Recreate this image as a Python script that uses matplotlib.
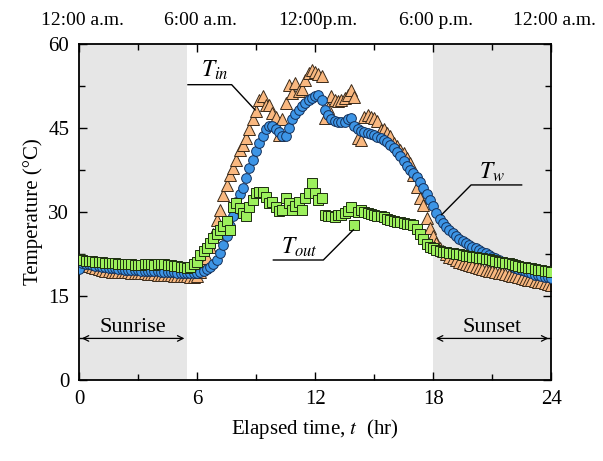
import numpy as np
import matplotlib
matplotlib.use('Agg')
import matplotlib.pyplot as plt

plt.rcParams['font.family'] = 'Liberation Serif'
plt.rcParams['mathtext.fontset'] = 'stix'

# 10-min readings, one row per hour (0..23 h) plus the final 24 h value
t = np.arange(145) / 6.0

T_w = [
    19.8, 20.8, 20.7, 20.6, 20.5, 20.4,
    20.3, 20.2, 20.1, 20.0, 19.9, 19.9,
    19.8, 19.8, 19.7, 19.7, 19.6, 19.6,
    19.6, 19.5, 19.5, 19.5, 19.4, 19.4,
    19.4, 19.3, 19.3, 19.3, 19.2, 19.2,
    19.1, 19.1, 19.0, 19.0, 19.0, 19.0,
    19.0, 19.2, 19.5, 19.8, 20.1, 20.7,
    21.4, 22.6, 24.0, 25.7, 27.5, 29.2,
    31.8, 33.2, 34.3, 36.0, 37.8, 39.3,
    40.8, 42.3, 43.6, 44.8, 45.3, 45.3,
    44.8, 44.2, 43.5, 43.6, 45.0, 46.5,
    47.5, 48.2, 48.9, 49.5, 50.0, 50.4,
    50.7, 50.9, 49.9, 48.2, 47.2, 46.6,
    46.2, 46.0, 46.0, 46.1, 46.5, 46.8,
    45.3, 44.8, 44.5, 44.3, 44.1, 43.9,
    43.7, 43.4, 43.1, 42.8, 42.4, 42.0,
    41.4, 40.6, 39.9, 39.0, 38.2, 37.5,
    36.9, 36.3, 35.3, 34.2, 33.2, 32.1,
    31.0, 29.8, 28.8, 28.0, 27.3, 26.7,
    26.2, 25.7, 25.2, 24.8, 24.4, 24.1,
    23.8, 23.5, 23.2, 22.9, 22.6, 22.3,
    22.0, 21.7, 21.4, 21.1, 20.8, 20.6,
    20.3, 20.0, 19.8, 19.6, 19.4, 19.2,
    19.0, 18.8, 18.7, 18.5, 18.4, 18.3,
    18.2]

T_in = [
    21.0, 20.8, 20.5, 20.3, 20.1, 19.9,
    19.8, 19.6, 19.5, 19.4, 19.3, 19.3,
    19.3, 19.2, 19.2, 19.2, 19.1, 19.1,
    19.0, 19.0, 19.0, 18.9, 18.9, 18.9,
    18.8, 18.8, 18.8, 18.7, 18.7, 18.6,
    18.6, 18.6, 18.5, 18.5, 18.4, 18.4,
    18.6, 19.2, 20.2, 21.8, 23.8, 26.0,
    28.5, 30.4, 33.0, 34.8, 36.5, 37.8,
    39.3, 41.1, 42.0, 43.2, 44.8, 46.6,
    48.0, 50.0, 50.6, 49.1, 49.1, 47.6,
    47.0, 43.7, 46.5, 49.5, 52.7, 51.2,
    53.0, 51.5, 52.0, 53.5, 54.8, 55.4,
    55.0, 54.6, 54.3, 46.7, 48.5, 50.6,
    50.0, 49.7, 50.0, 50.3, 50.8, 51.8,
    50.5, 43.2, 42.9, 47.0, 47.2, 47.0,
    46.8, 46.2, 44.6, 44.8, 44.0, 43.6,
    42.3, 41.8, 41.0, 40.5, 39.6, 38.7,
    36.5, 34.5, 32.5, 31.2, 28.9, 27.1,
    25.6, 24.5, 23.6, 23.0, 22.4, 22.0,
    21.7, 21.4, 21.1, 20.9, 20.7, 20.5,
    20.3, 20.1, 20.0, 19.8, 19.7, 19.5,
    19.4, 19.3, 19.1, 19.0, 18.9, 18.8,
    18.6, 18.5, 18.3, 18.2, 18.0, 17.9,
    17.8, 17.6, 17.5, 17.4, 17.3, 17.2,
    17.0]

T_out = [
    21.5, 21.4, 21.3, 21.3, 21.2, 21.1,
    21.0, 21.0, 20.9, 20.9, 20.8, 20.8,
    20.7, 20.7, 20.6, 20.6, 20.6, 20.5,
    20.5, 20.5, 20.6, 20.6, 20.6, 20.5,
    20.7, 20.7, 20.6, 20.5, 20.5, 20.4,
    20.3, 20.2, 20.1, 20.0, 20.2, 20.6,
    21.0, 22.3, 23.0, 23.5, 24.5, 25.3,
    26.0, 26.8, 27.5, 28.3, 26.8, 30.9,
    31.5, 30.6, 29.8, 29.2, 30.9, 32.1,
    33.3, 33.6, 33.6, 32.7, 31.5, 31.8,
    30.9, 30.1, 30.4, 32.4, 31.5, 30.4,
    31.0, 31.8, 30.4, 32.5, 33.3, 35.2,
    33.3, 32.1, 32.5, 29.5, 29.3, 29.2,
    29.0, 29.4, 29.5, 29.8, 30.2, 30.9,
    27.7, 30.0, 30.4, 30.0, 29.8, 29.6,
    29.4, 29.2, 29.2, 29.0, 28.8, 28.6,
    28.3, 28.2, 28.1, 28.0, 27.9, 27.8,
    27.7, 27.0, 26.0, 25.2, 24.3, 23.8,
    23.5, 23.2, 23.0, 22.9, 22.8, 22.7,
    22.6, 22.5, 22.4, 22.3, 22.2, 22.1,
    22.0, 21.9, 21.8, 21.7, 21.6, 21.5,
    21.4, 21.2, 21.1, 21.0, 20.9, 20.8,
    20.6, 20.5, 20.4, 20.2, 20.1, 20.0,
    19.9, 19.8, 19.7, 19.6, 19.5, 19.4,
    19.3]

clock_pos = [0, 6, 12, 18, 24]
clock_labels = ['12:00 a.m.', '6:00 a.m.', '12:00p.m.', '6:00 p.m.', '12:00 a.m.']

fig = plt.figure(figsize=(6.03, 4.61), dpi=100)
ax = fig.add_axes([0.131, 0.176, 0.783, 0.729])

# night shading
ax.axvspan(0, 5.5, color='#e6e6e6', lw=0, zorder=0)
ax.axvspan(18, 24, color='#e6e6e6', lw=0, zorder=0)

ax.plot(t, T_in, '^', ms=8, mfc='#f9b880', mec='#3a2a1a', mew=0.7, zorder=2)
ax.plot(t, T_w, 'o', ms=7, mfc='#3d95e6', mec='#14305a', mew=0.7, zorder=3)
ax.plot(t, T_out, 's', ms=6.7, mfc='#9cf05c', mec='#1d2d10', mew=0.7, zorder=4)

# leader lines and labels
ax.plot([5.54, 7.76, 8.95], [52.7, 52.7, 48.2], color='black', lw=1, zorder=5)
ax.text(6.9, 55.3, r'$T_{in}$', fontsize=17, ha='center', va='center', zorder=6)
ax.plot([22.5, 19.93, 18.44], [34.8, 34.8, 29.5], color='black', lw=1, zorder=5)
ax.text(21.0, 37.0, r'$T_{w}$', fontsize=17, ha='center', va='center', zorder=6)
ax.plot([9.88, 12.42, 13.95], [21.4, 21.4, 26.8], color='black', lw=1, zorder=5)
ax.text(11.2, 23.6, r'$T_{out}$', fontsize=17, ha='center', va='center', zorder=6)

# sunrise / sunset arrows
ax.annotate('', xy=(0, 7.4), xytext=(5.5, 7.4),
            arrowprops=dict(arrowstyle='<->', color='black', lw=0.9))
ax.text(2.75, 7.7, 'Sunrise', fontsize=16, ha='center', va='bottom')
ax.annotate('', xy=(18, 7.4), xytext=(24, 7.4),
            arrowprops=dict(arrowstyle='<->', color='black', lw=0.9))
ax.text(21, 7.7, 'Sunset', fontsize=16, ha='center', va='bottom')

ax.set_xlim(0, 24)
ax.set_ylim(0, 60)
ax.set_xticks([0, 6, 12, 18, 24])
ax.set_xticks([3, 9, 15, 21], minor=True)
ax.set_yticks([0, 15, 30, 45, 60])
ax.set_yticks([7.5, 22.5, 37.5, 52.5], minor=True)
ax.tick_params(which='both', direction='in', top=True, right=True, labelsize=15, width=1)
ax.tick_params(which='major', length=6, pad=7)
ax.tick_params(which='minor', length=4)
for s in ax.spines.values():
    s.set_linewidth(1.3)

for x, lab in zip(clock_pos, clock_labels):
    ax.text(x + 0.15, 1.045, lab, transform=ax.get_xaxis_transform(),
            ha='center', va='bottom', fontsize=14)

ax.set_xlabel(r'Elapsed time, $t$  (hr)', fontsize=15, labelpad=6)
ax.set_ylabel('Temperature (°C)', fontsize=15, labelpad=4)

fig.savefig('out.png', dpi=100)
